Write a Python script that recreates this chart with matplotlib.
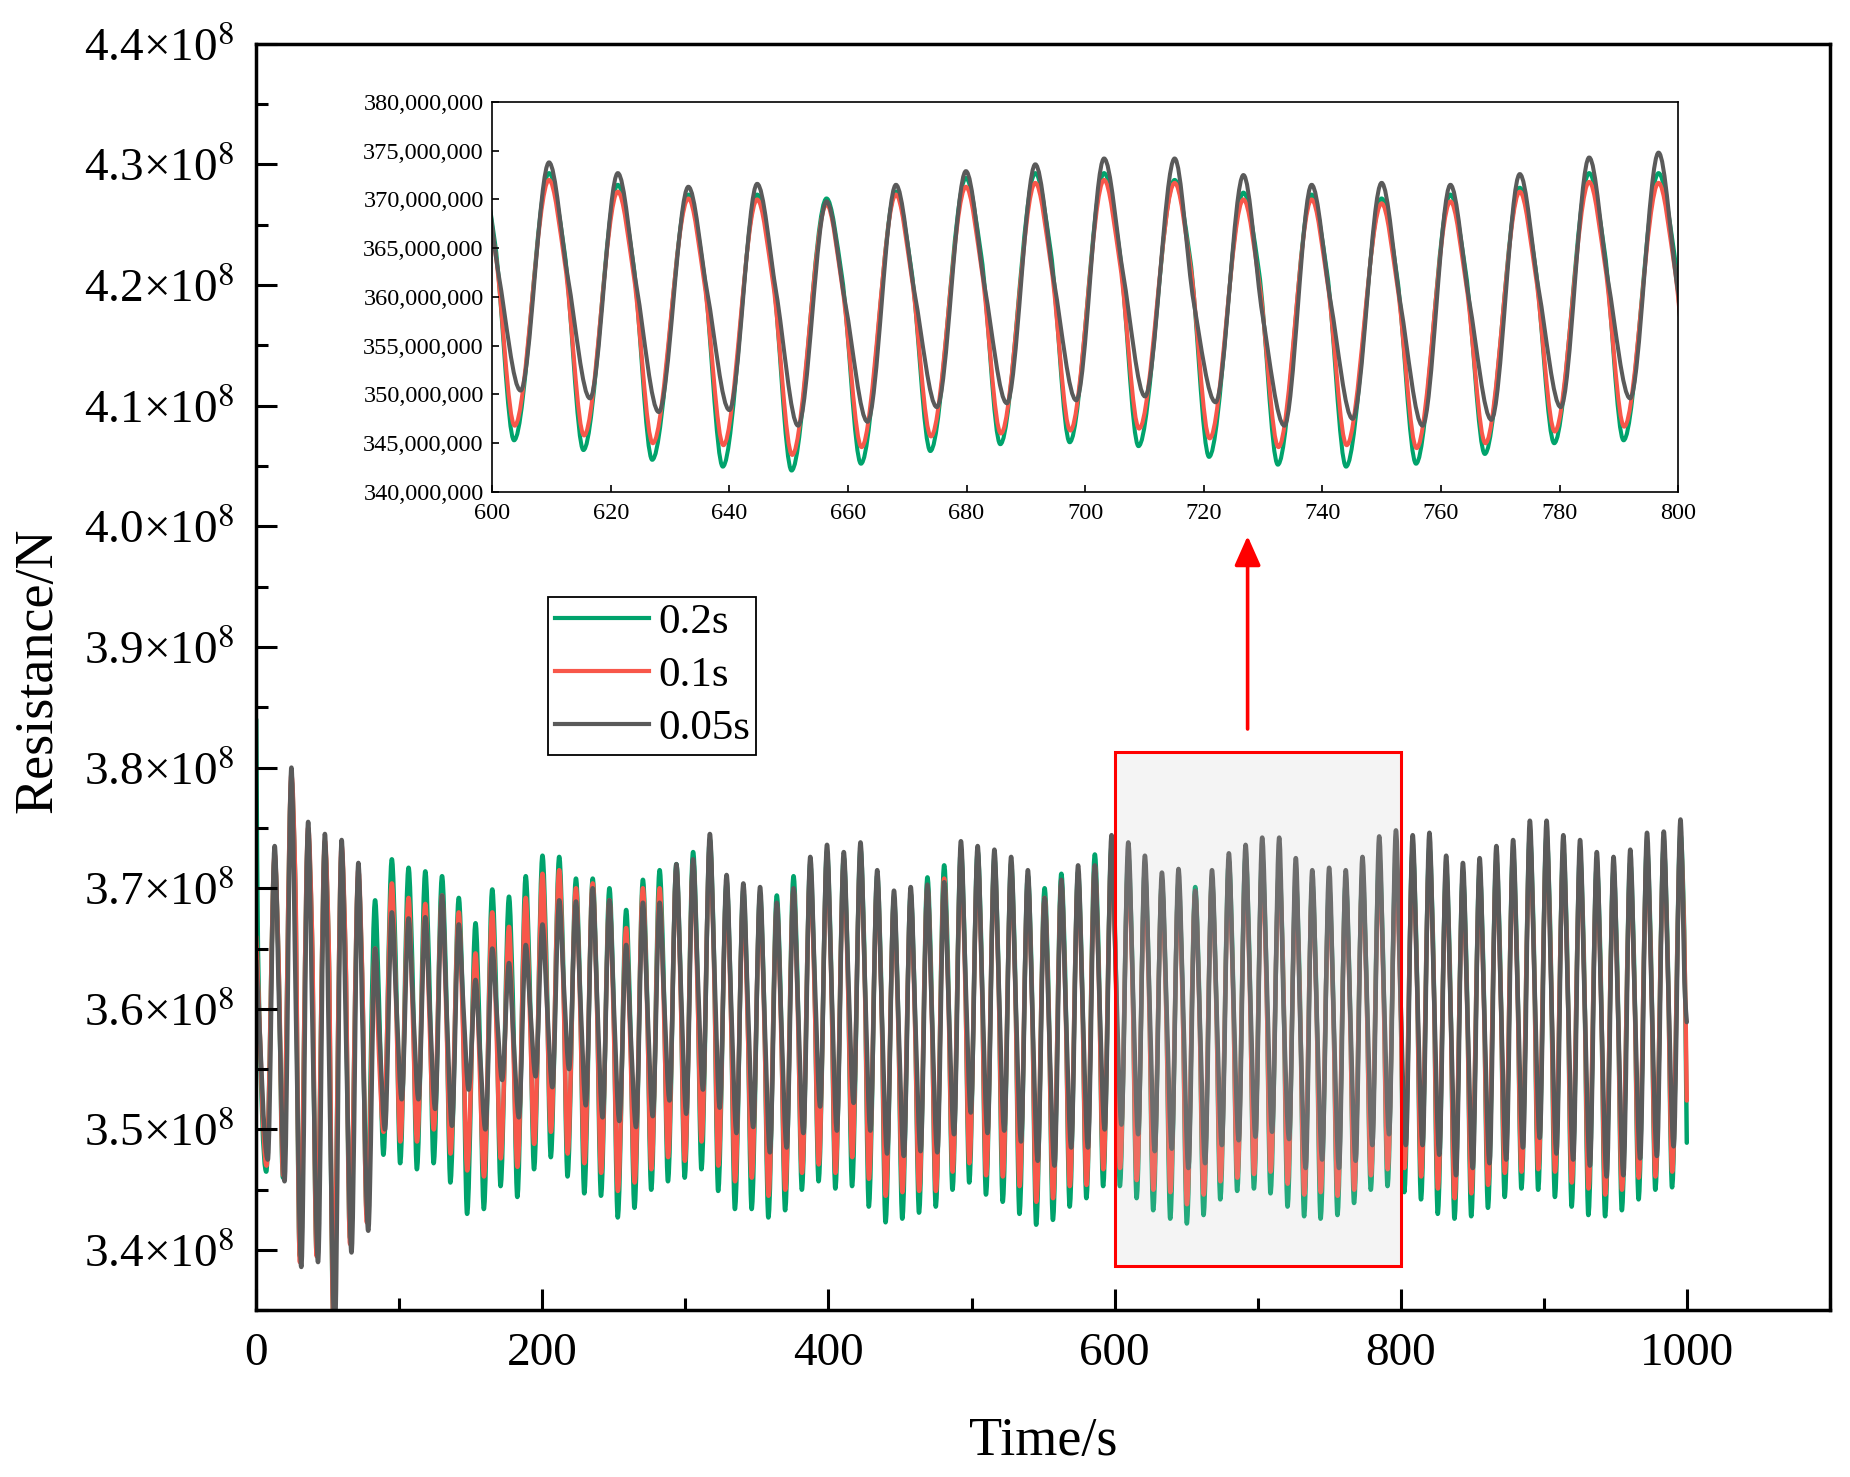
import matplotlib
matplotlib.use("Agg")
import matplotlib.pyplot as plt
import numpy as np
from matplotlib.lines import Line2D
from matplotlib.path import Path
from matplotlib.patches import PathPatch, Rectangle
from matplotlib.ticker import MultipleLocator, FuncFormatter

plt.rcParams['font.family'] = ['Liberation Serif', 'DejaVu Serif']
plt.rcParams['mathtext.fontset'] = 'stix'

# ---- data (resistance in units of 1e6 N) ----
# peak times of each oscillation cycle (s)
t_peak = [12.9, 24.6, 36.3, 48.0, 59.7, 71.4, 83.1, 94.8, 106.5, 118.2,
          129.9, 141.6, 153.3, 165.0, 176.7, 188.4, 200.1, 211.8, 223.5, 235.2,
          246.9, 258.6, 270.3, 282.0, 293.7, 305.4, 317.1, 328.8, 340.5, 352.2,
          363.9, 375.6, 387.3, 399.0, 410.7, 422.4, 434.1, 445.8, 457.5, 469.2,
          480.9, 492.6, 504.3, 516.0, 527.7, 539.4, 551.1, 562.8, 574.5, 586.2,
          597.9, 609.6, 621.2, 633.1, 644.7, 656.4, 668.1, 679.9, 691.6, 703.2,
          715.1, 726.7, 738.2, 750.0, 761.6, 773.3, 785.0, 796.7, 808.4, 820.1,
          831.8, 843.5, 855.2, 866.9, 878.6, 890.3, 902.0, 913.7, 925.4, 937.1,
          948.8, 960.5, 972.2, 983.9, 995.6]

# 0.05 s (grey)
gray_peak = [373.5, 380.0, 375.5, 374.5, 374.0, 372.1, 365.0, 368.0, 367.5, 367.6,
             369.4, 367.0, 362.4, 365.0, 363.8, 365.3, 367.0, 369.0, 368.9, 370.0,
             369.0, 365.3, 368.8, 368.8, 372.0, 372.4, 374.5, 371.1, 370.4, 370.1,
             368.8, 370.0, 372.6, 373.6, 373.0, 373.8, 371.5, 369.8, 370.1, 370.3,
             370.5, 373.9, 373.5, 373.2, 372.6, 371.5, 369.2, 370.7, 371.9, 371.9,
             374.4, 373.8, 372.7, 371.3, 371.6, 369.8, 371.5, 372.9, 373.6, 374.2,
             374.2, 372.5, 371.5, 371.7, 371.5, 372.6, 374.3, 374.8, 374.4, 374.6,
             372.7, 372.1, 372.5, 373.5, 374.0, 375.6, 375.6, 374.4, 374.0, 373.0,
             372.6, 373.2, 374.6, 374.7, 375.7]
gray_shoulder = [359.6, 359.3, 357.3, 353.8, 356.9, 356.9, 357.5, 360.3, 360.0, 359.7,
                 359.9, 360.2, 356.2, 359.6, 357.4, 359.9, 360.3, 362.0, 360.5, 360.5,
                 359.9, 357.8, 360.0, 360.6, 361.7, 362.9, 363.2, 360.4, 360.3, 359.1,
                 358.7, 359.9, 362.3, 361.8, 362.6, 361.9, 359.8, 358.8, 359.2, 359.2,
                 360.1, 362.7, 361.6, 361.6, 360.8, 359.5, 358.1, 359.6, 360.2, 361.0,
                 362.3, 361.9, 360.9, 360.4, 360.5, 359.2, 360.2, 360.9, 361.4, 362.4,
                 359.5, 358.2, 359.5, 359.2, 359.5, 360.7, 361.6, 360.9, 361.6, 361.3,
                 359.5, 359.5, 359.9, 360.5, 361.3, 362.5, 361.8, 361.0, 360.5, 359.6,
                 359.4, 360.4, 361.2, 361.7, 361.0]
gray_trough = [345.7, 338.6, 339.0, 333.0, 339.8, 341.6, 350.0, 352.5, 352.5, 351.7,
               350.3, 353.3, 350.0, 354.1, 351.0, 354.4, 353.5, 355.0, 352.0, 351.0,
               350.7, 350.2, 351.1, 352.4, 351.3, 353.3, 351.8, 349.7, 350.2, 348.1,
               348.5, 349.7, 351.9, 349.9, 352.2, 349.9, 348.0, 347.8, 348.2, 348.1,
               349.6, 351.4, 349.7, 349.9, 349.0, 347.4, 347.0, 348.5, 348.5, 350.0,
               350.4, 349.6, 348.2, 348.4, 346.8, 347.2, 348.7, 349.1, 349.4, 349.8,
               349.2, 346.8, 347.5, 346.8, 347.4, 348.7, 349.6, 348.7, 348.7, 347.9,
               346.2, 346.8, 347.2, 347.5, 348.5, 349.3, 348.0, 347.5, 347.0, 346.1,
               346.2, 347.6, 347.8, 348.6, 348.0]

# 0.2 s (green)
green_peak = [372.5, 379.0, 374.5, 373.5, 373.0, 371.0, 369.0, 372.4, 371.7, 371.4,
              371.0, 369.2, 367.1, 369.9, 369.3, 371.0, 372.7, 372.6, 370.8, 370.8,
              370.0, 368.2, 370.7, 371.5, 372.0, 373.0, 374.0, 370.5, 369.8, 369.5,
              369.4, 371.0, 372.0, 373.0, 372.5, 373.2, 371.0, 369.2, 369.5, 370.9,
              371.9, 373.2, 373.0, 372.5, 372.0, 371.0, 370.0, 371.2, 371.3, 372.8,
              373.5, 372.7, 371.5, 370.5, 370.5, 370.1, 370.8, 372.2, 372.7, 372.7,
              372.0, 370.7, 370.5, 370.1, 370.5, 371.2, 372.7, 372.7, 373.2, 373.4,
              371.6, 371.0, 371.4, 372.4, 372.9, 374.4, 374.4, 373.2, 372.8, 371.9,
              371.5, 372.1, 373.4, 373.5, 374.5]
green_shoulder = [364.5, 371.0, 366.5, 365.5, 365.0, 363.0, 361.0, 364.4, 363.7, 363.4,
                  363.0, 361.2, 359.1, 361.9, 361.3, 363.0, 364.7, 364.6, 362.8, 362.8,
                  362.0, 360.2, 362.7, 363.5, 364.0, 365.0, 366.0, 362.5, 361.8, 361.5,
                  361.4, 363.0, 364.0, 365.0, 364.5, 365.2, 363.0, 361.2, 361.5, 362.9,
                  363.9, 365.2, 365.0, 364.5, 364.0, 363.0, 362.0, 363.2, 363.3, 364.8,
                  365.5, 364.7, 363.5, 362.5, 362.5, 362.1, 362.8, 364.2, 364.7, 364.7,
                  364.0, 362.7, 362.5, 362.1, 362.5, 363.2, 364.7, 364.7, 365.2, 365.4,
                  363.6, 363.0, 363.4, 364.4, 364.9, 366.4, 366.4, 365.2, 364.8, 363.9,
                  363.5, 364.1, 365.4, 365.5, 366.5]
green_trough = [346.0, 339.5, 340.0, 334.5, 341.0, 343.0, 347.9, 347.2, 346.7, 347.2,
                345.6, 343.0, 343.4, 345.3, 344.4, 346.7, 347.7, 346.1, 344.7, 344.5,
                342.7, 343.5, 345.0, 345.7, 346.0, 346.7, 344.9, 343.4, 343.4, 342.7,
                343.3, 345.0, 345.7, 345.1, 345.3, 343.6, 342.3, 342.6, 343.1, 343.6,
                345.0, 345.6, 344.6, 344.0, 343.0, 342.1, 342.5, 343.6, 344.3, 345.3,
                345.3, 344.3, 343.3, 342.6, 342.2, 342.9, 344.2, 344.9, 345.1, 344.7,
                343.6, 342.8, 342.6, 342.9, 343.9, 345.0, 345.3, 344.8, 344.2, 343.0,
                342.6, 342.8, 343.5, 344.4, 345.1, 345.0, 344.4, 343.6, 342.9, 342.8,
                343.3, 344.2, 345.0, 345.2, 345.0]

# 0.1 s (red)
red_peak = [372.8, 379.4, 375.0, 373.9, 373.5, 371.5, 365.0, 370.4, 369.2, 368.7,
            369.4, 368.0, 364.6, 368.0, 366.8, 369.2, 371.2, 371.5, 370.0, 370.4,
            369.0, 366.7, 370.0, 370.0, 371.5, 372.0, 373.5, 370.0, 369.2, 369.0,
            368.5, 369.9, 371.5, 372.5, 372.0, 372.6, 370.5, 368.8, 369.0, 370.0,
            370.8, 372.5, 372.3, 372.0, 371.4, 370.4, 369.2, 370.3, 370.8, 371.8,
            373.0, 372.0, 370.8, 370.1, 370.0, 369.5, 370.5, 371.3, 371.7, 372.0,
            371.7, 370.0, 370.0, 369.6, 369.8, 370.8, 371.8, 371.7, 372.6, 372.8,
            370.9, 370.3, 370.7, 371.7, 372.2, 373.8, 373.8, 372.6, 372.2, 371.2,
            370.8, 371.4, 372.8, 372.9, 373.9]
red_shoulder = [364.1, 370.7, 366.3, 365.2, 364.8, 362.8, 356.3, 361.7, 360.5, 360.0,
                360.7, 359.3, 355.9, 359.3, 358.1, 360.5, 362.5, 362.8, 361.3, 361.7,
                360.3, 358.0, 361.3, 361.3, 362.8, 363.3, 364.8, 361.3, 360.5, 360.3,
                359.8, 361.2, 362.8, 363.8, 363.3, 363.9, 361.8, 360.1, 360.3, 361.3,
                362.1, 363.8, 363.6, 363.3, 362.7, 361.7, 360.5, 361.6, 362.1, 363.1,
                364.3, 363.3, 362.1, 361.4, 361.3, 360.8, 361.8, 362.6, 363.0, 363.3,
                363.0, 361.3, 361.3, 360.9, 361.1, 362.1, 363.1, 363.0, 363.9, 364.1,
                362.2, 361.6, 362.0, 363.0, 363.5, 365.1, 365.1, 363.9, 363.5, 362.5,
                362.1, 362.7, 364.1, 364.2, 365.2]
red_trough = [346.2, 339.0, 339.5, 334.0, 340.5, 342.3, 349.8, 349.0, 349.0, 350.0,
              348.0, 346.6, 346.1, 347.6, 346.9, 348.8, 349.8, 348.0, 347.2, 346.4,
              344.9, 345.6, 346.7, 347.7, 347.4, 349.0, 347.0, 345.7, 346.0, 344.5,
              345.0, 346.4, 347.1, 346.4, 347.7, 345.9, 344.5, 344.8, 344.9, 344.9,
              346.5, 347.2, 346.2, 346.1, 345.3, 344.0, 344.3, 345.3, 345.4, 346.7,
              346.8, 345.8, 345.0, 344.8, 343.8, 344.6, 345.7, 346.0, 346.3, 346.5,
              345.5, 344.6, 344.8, 344.5, 345.0, 346.2, 346.7, 346.8, 346.1, 345.1,
              344.3, 344.7, 345.4, 346.4, 346.5, 346.7, 346.5, 345.6, 345.1, 344.6,
              345.0, 346.0, 346.1, 346.5, 346.0]

# start of each record (time, value) and value at t = 1000 s
gray_head_t, gray_head_v = [0.0, 8.1], [364.0, 347.5]
green_head_t, green_head_v = [0.0, 1.2, 7.0], [384.0, 365.0, 346.5]
red_head_t, red_head_v = [0.0, 7.2], [366.0, 347.0]
gray_end, green_end, red_end = 358.9, 348.9, 352.4
# delay of shoulder and trough after each peak (s)
gray_lag = (3.2, 6.9)
green_lag = (2.6, 5.8)
red_lag = (2.7, 5.9)

t_end = 1000.0


def trace(head_t, head_v, lag, peak, shoulder, trough, end_v):
    t, v = list(head_t), list(head_v)
    for tp, p, s, tr in zip(t_peak, peak, shoulder, trough):
        for tt, vv in ((tp, p), (tp + lag[0], s), (tp + lag[1], tr)):
            if tt < t_end:
                t.append(tt)
                v.append(vv)
    t.append(t_end)
    v.append(end_v)
    return np.array(t), np.array(v) * 1e6


def smooth_path(t, v):
    # shape-preserving cubic through the read points, drawn as Bezier segments
    h = np.diff(t)
    d = np.diff(v) / h
    m = np.zeros_like(v)
    m[0], m[-1] = d[0], d[-1]
    for i in range(1, len(v) - 1):
        if d[i - 1] * d[i] > 0:
            w1 = 2 * h[i] + h[i - 1]
            w2 = h[i] + 2 * h[i - 1]
            m[i] = (w1 + w2) / (w1 / d[i - 1] + w2 / d[i])
    verts = [(t[0], v[0])]
    codes = [Path.MOVETO]
    for i in range(len(h)):
        verts += [(t[i] + h[i] / 3, v[i] + m[i] * h[i] / 3),
                  (t[i + 1] - h[i] / 3, v[i + 1] - m[i + 1] * h[i] / 3),
                  (t[i + 1], v[i + 1])]
        codes += [Path.CURVE4] * 3
    return Path(verts, codes)


series = [
    ("0.2s", "#00A36C", trace(green_head_t, green_head_v, green_lag,
                              green_peak, green_shoulder, green_trough, green_end)),
    ("0.1s", "#F8574A", trace(red_head_t, red_head_v, red_lag,
                              red_peak, red_shoulder, red_trough, red_end)),
    ("0.05s", "#5A5A5A", trace(gray_head_t, gray_head_v, gray_lag,
                               gray_peak, gray_shoulder, gray_trough, gray_end)),
]

fig = plt.figure(figsize=(18.5, 14.77), dpi=100)
ax = fig.add_axes([0.1385, 0.1128, 0.8506, 0.8575])

handles = []
for label, color, (t, v) in series:
    ax.add_patch(PathPatch(smooth_path(t, v), facecolor="none", edgecolor=color,
                           lw=3.2, joinstyle="round", capstyle="round"))
    handles.append(Line2D([], [], color=color, lw=3.0, label=label))

ax.set_xlim(0, 1100)
ax.set_ylim(3.35e8, 4.4e8)
ax.xaxis.set_major_locator(MultipleLocator(200))
ax.xaxis.set_minor_locator(MultipleLocator(100))
ax.yaxis.set_major_locator(MultipleLocator(0.1e8))
ax.yaxis.set_minor_locator(MultipleLocator(0.05e8))
ax.yaxis.set_major_formatter(FuncFormatter(lambda v, p: f"{v / 1e8:.1f}×10$^{{8}}$"))
ax.tick_params(which="both", direction="in", top=False, right=False, width=2.2)
ax.tick_params(which="major", length=15, labelsize=34)
ax.tick_params(which="minor", length=8.5)
ax.tick_params(axis="x", pad=16)
ax.tick_params(axis="y", pad=16)
for sp in ax.spines.values():
    sp.set_linewidth(2.5)

fig.text(0.0205, 0.546, "Resistance/N", rotation=90, ha="center", va="center",
         fontsize=39)
fig.text(0.5638, 0.024, "Time/s", ha="center", va="center", fontsize=39)

# highlighted window and arrow to the zoomed view
ax.add_patch(Rectangle((600, 3.387e8), 200, 0.426e8,
                       facecolor=(0.78, 0.78, 0.78, 0.18), edgecolor="red",
                       lw=2.2, zorder=5))
ax.annotate("", xy=(693, 3.992e8), xytext=(693, 3.832e8),
            arrowprops=dict(arrowstyle="-|>,head_length=0.9,head_width=0.4",
                            color="red", lw=2.6, shrinkA=0, shrinkB=0,
                            mutation_scale=20))

leg = ax.legend(handles=handles, loc="upper left", bbox_to_anchor=(0.1855, 0.5635),
                borderaxespad=0, fontsize=31, frameon=True, fancybox=False,
                framealpha=1, edgecolor="black", handlelength=2.2,
                handletextpad=0.2, labelspacing=0.32, borderpad=0.15)
leg.get_frame().set_linewidth(1.3)

# inset: 600-800 s
axin = fig.add_axes([0.2660, 0.6669, 0.6411, 0.2641])
for label, color, (t, v) in series:
    axin.add_patch(PathPatch(smooth_path(t, v), facecolor="none", edgecolor=color,
                             lw=2.9, joinstyle="round", capstyle="round"))
axin.set_xlim(600, 800)
axin.set_ylim(340e6, 380e6)
axin.xaxis.set_major_locator(MultipleLocator(20))
axin.yaxis.set_major_locator(MultipleLocator(5e6))
axin.yaxis.set_major_formatter(FuncFormatter(lambda v, p: f"{v:,.0f}"))
axin.tick_params(direction="in", length=5, width=1.2, labelsize=17.5,
                 top=False, right=False)
axin.tick_params(axis="x", pad=8)
axin.tick_params(axis="y", pad=6)
for sp in axin.spines.values():
    sp.set_linewidth(1.2)

fig.savefig("out.png", dpi=100)
